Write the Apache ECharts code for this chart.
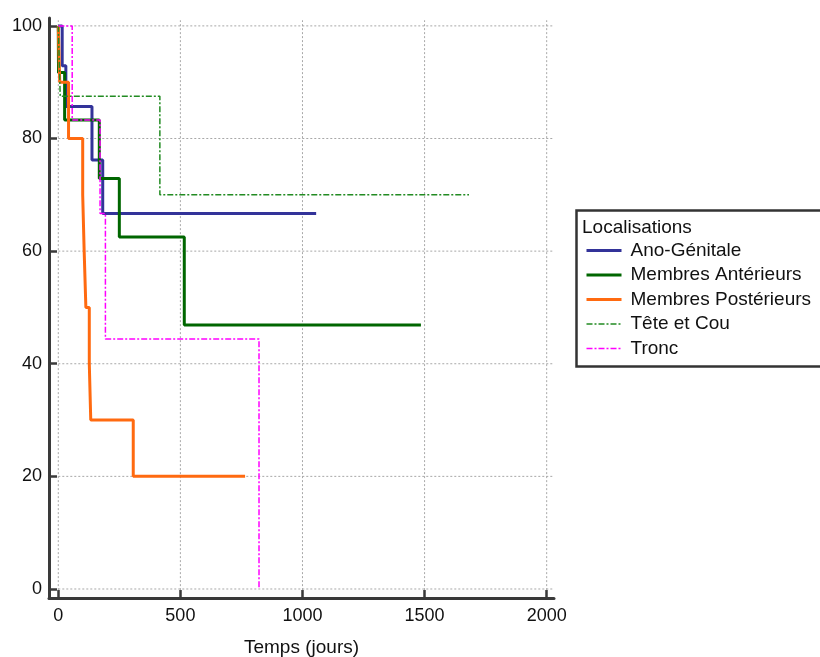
<!DOCTYPE html>
<html>
<head>
<meta charset="utf-8">
<script src="https://cdn.jsdelivr.net/npm/echarts@6/dist/echarts.min.js"></script>
<style>html,body{margin:0;padding:0;background:#fff;overflow:hidden;}#c{width:820px;height:657px;}</style>
</head>
<body>
<div id="c"></div>
<script>
// ---- data ----
var seriesNames = ['Ano-Génitale', 'Membres Antérieurs', 'Membres Postérieurs', 'Tête et Cou', 'Tronc'];
var anoT = [0, 16, 31, 138, 182, 1056];
var anoS = [100, 92.9, 85.7, 76.2, 66.7, 66.7];
var antT = [0, 1, 26, 168, 250, 516, 1485];
var antS = [100, 91.7, 83.3, 72.9, 62.5, 46.9, 46.9];
var postT = [0, 6, 42, 100, 106, 113, 127, 133, 307, 765];
var postS = [100, 90, 80, 70, 60, 50, 40, 30, 20, 20];
var teteT = [0, 8, 416, 1682];
var teteS = [100, 87.5, 70, 70];
var troncT = [0, 57, 171, 193, 822];
var troncS = [100, 83.3, 66.7, 44.4, 0];
var xTicks = [0, 500, 1000, 1500, 2000];
var yTicks = [0, 20, 40, 60, 80, 100];
var xTitle = 'Temps (jours)';
var legendTitle = 'Localisations';

// ---- build ----
var FONT = '"Liberation Sans", Arial, sans-serif';
var X_MIN = -38, X_MAX = 2030, Y_MIN = -1.6, Y_MAX = 101.4;
function pairs(t, s) { return t.map(function (v, i) { return [v, s[i]]; }); }

var gridSeries = [];
xTicks.forEach(function (x) {
  gridSeries.push({ type: 'line', data: [[x, -0.2], [x, 101]], symbol: 'none', silent: true, z: 1,
    lineStyle: { color: '#a8a8a8', width: 1, type: [2, 2] }, animation: false });
});
yTicks.forEach(function (y) {
  gridSeries.push({ type: 'line', data: [[0, y], [2026, y]], symbol: 'none', silent: true, z: 1,
    lineStyle: { color: '#a8a8a8', width: 1, type: [2, 2] }, animation: false });
});

var styles = [
  { color: '#333399', width: 3, type: 'solid' },
  { color: '#006600', width: 3, type: 'solid' },
  { color: '#ff6a10', width: 3, type: 'solid' },
  { color: '#228b22', width: 1.5, type: [6, 2, 2, 2] },
  { color: '#ff00ff', width: 1.5, type: [6, 2, 2, 2] }
];
var datas = [pairs(anoT, anoS), pairs(antT, antS), pairs(postT, postS), pairs(teteT, teteS), pairs(troncT, troncS)];
var mainSeries = seriesNames.map(function (n, i) {
  return { name: n, type: 'line', step: 'end', data: datas[i], symbol: 'none', z: 5 + (i === 4 ? 1 : 0),
    itemStyle: { color: styles[i].color },
    lineStyle: { color: styles[i].color, width: styles[i].width, type: styles[i].type },
    animation: false };
});
var legendData = seriesNames.map(function (n, i) {
  return { name: n, lineStyle: { width: styles[i].width === 3 ? 3 : 1.5, type: styles[i].type, color: styles[i].color } };
});

var chart = echarts.init(document.getElementById('c'), null, { renderer: 'canvas' });
chart.setOption({
  animation: false,
  textStyle: { fontFamily: FONT },
  grid: { left: 49, right: 266, top: 18, bottom: 59, containLabel: false, outerBoundsMode: 'none' },
  xAxis: {
    type: 'value', min: X_MIN, max: X_MAX,
    name: xTitle, nameLocation: 'middle', nameGap: 40,
    nameTextStyle: { fontSize: 19, color: '#111', fontFamily: FONT },
    axisLine: { show: true, onZero: false, lineStyle: { color: '#3a3a3a', width: 3 } },
    axisTick: { show: true, inside: true, length: 8, customValues: xTicks, lineStyle: { color: '#3a3a3a', width: 2.5 } },
    axisLabel: { customValues: xTicks, fontSize: 18, color: '#111', margin: 9, fontFamily: FONT,
      formatter: function (v) { return String(v); } },
    splitLine: { show: false }
  },
  yAxis: {
    type: 'value', min: Y_MIN, max: Y_MAX,
    axisLine: { show: true, onZero: false, lineStyle: { color: '#3a3a3a', width: 3 } },
    axisTick: { show: true, inside: true, length: 8, customValues: yTicks, lineStyle: { color: '#3a3a3a', width: 2.5 } },
    axisLabel: { customValues: yTicks, fontSize: 18, color: '#111', margin: 7, fontFamily: FONT,
      formatter: function (v) { return String(v); } },
    splitLine: { show: false }
  },
  legend: {
    data: legendData, orient: 'vertical', left: 585, top: 241, padding: 0,
    itemWidth: 35, itemHeight: 14, itemGap: 5.5,
    itemStyle: { opacity: 0 },
    textStyle: { fontSize: 19, color: '#111', fontFamily: FONT, padding: [0, 0, 0, 4] },
    selectedMode: false
  },
  graphic: [
    { type: 'rect', left: 574, top: 208, shape: { width: 260, height: 156 },
      style: { fill: 'none', stroke: '#333', lineWidth: 2.5 }, z: 0 },
    { type: 'text', left: 582, top: 218, style: { text: legendTitle, fontSize: 19, fill: '#111', fontFamily: FONT } }
  ],
  series: gridSeries.concat(mainSeries)
});
</script>
</body>
</html>
